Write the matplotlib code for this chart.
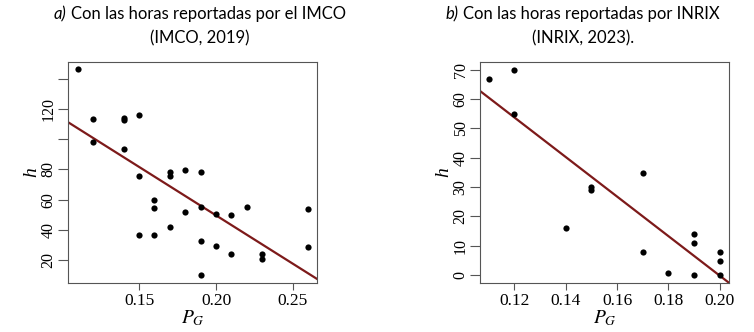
import numpy as np
import matplotlib.pyplot as plt

# panel a) IMCO hours
pg_a = [0.11, 0.12, 0.12, 0.14, 0.14, 0.14, 0.15, 0.15, 0.15, 0.16, 0.16, 0.16,
        0.17, 0.17, 0.17, 0.18, 0.18, 0.19, 0.19, 0.19, 0.19, 0.20, 0.20, 0.21,
        0.21, 0.22, 0.23, 0.23, 0.26, 0.26]
h_a = [146.5, 113.4, 98.3, 114.2, 112.7, 93.9, 116.2, 75.5, 36.4, 60.0, 54.3, 36.6,
       78.4, 76.0, 41.9, 79.7, 52.1, 78.6, 55.4, 32.8, 10.3, 50.3, 29.3, 49.9,
       24.2, 55.4, 24.2, 20.4, 53.6, 28.4]
fit_a = (178.1, -642.7)   # intercept, slope

# panel b) INRIX hours
pg_b = [0.11, 0.12, 0.12, 0.14, 0.15, 0.15, 0.17, 0.17, 0.18, 0.19, 0.19, 0.19,
        0.20, 0.20, 0.20]
h_b = [66.9, 70.0, 55.0, 15.9, 29.9, 29.0, 34.8, 7.9, 0.8, 13.9, 10.8, 0.0,
       7.9, 4.9, 0.0]
fit_b = (134.6, -674.2)

xticks_a = [0.15, 0.20, 0.25]
yticks_a = [20, 40, 60, 80, 100, 120, 140]
ylabels_a = ['20', '40', '60', '80', '', '120', '']
xticks_b = [0.12, 0.14, 0.16, 0.18, 0.20]
yticks_b = [0, 10, 20, 30, 40, 50, 60, 70]

title_a = ('a)', 'Con las horas reportadas por el IMCO', '(IMCO, 2019)')
title_b = ('b)', 'Con las horas reportadas por INRIX', '(INRIX, 2023).')

plt.rcParams['font.family'] = ['Liberation Serif', 'DejaVu Serif']
plt.rcParams['mathtext.fontset'] = 'stix'
sans = 'Lato'
red = '#7d1a1a'

fig = plt.figure(figsize=(7.54, 3.32), dpi=100)
ax_a = fig.add_axes([68/754, 1-283/332, 249/754, 221/332])
ax_b = fig.add_axes([480/754, 1-283/332, 249/754, 221/332])


def draw_panel(ax, x, y, fit, xlim, ylim, xt, yt, ylab):
    ax.scatter(x, y, s=20, color='black', zorder=3, linewidths=0)
    ax.axline((0, fit[0]), slope=fit[1], color=red, lw=1.6, zorder=2)
    ax.set_xlim(xlim)
    ax.set_ylim(ylim)
    ax.set_xticks(xt)
    ax.set_xticklabels(['%.2f' % v for v in xt], fontsize=12.5)
    ax.set_yticks(yt)
    ax.set_yticklabels(ylab, fontsize=11.5, rotation=90, va='center', ha='right')
    ax.tick_params(axis='x', length=5, width=0.8, color='#555555', pad=2)
    ax.tick_params(axis='y', length=7.2, width=0.8, color='#555555', pad=1)
    for s in ax.spines.values():
        s.set_color('#555555')
        s.set_linewidth(0.8)
    ax.set_xlabel('$P_G$', fontsize=14, labelpad=0)
    ax.set_ylabel('h', style='italic', fontsize=14, labelpad=0)


draw_panel(ax_a, pg_a, h_a, fit_a, (0.1038, 0.2656), (4.7, 151.3),
           xticks_a, yticks_a, ylabels_a)
draw_panel(ax_b, pg_b, h_b, fit_b, (0.1066, 0.2036), (-2.73, 72.6),
           xticks_b, yticks_b, [str(v) for v in yticks_b])


def draw_title(cx, title):
    y1 = 1 - 14/332
    y2 = 1 - 38/332
    t = fig.text(cx + 8/754, y1, title[1], family=sans, fontsize=12,
                 ha='center', va='center')
    fig.canvas.draw()
    bb = t.get_window_extent()
    fig.text((bb.x0 - 4) / fig.bbox.width, y1, title[0], family=sans,
             style='italic', fontsize=12, ha='right', va='center')
    fig.text(cx, y2, title[2], family=sans, fontsize=12, ha='center', va='center')


draw_title(200/754, title_a)
draw_title(583/754, title_b)

fig.savefig('out.png', dpi=100)
